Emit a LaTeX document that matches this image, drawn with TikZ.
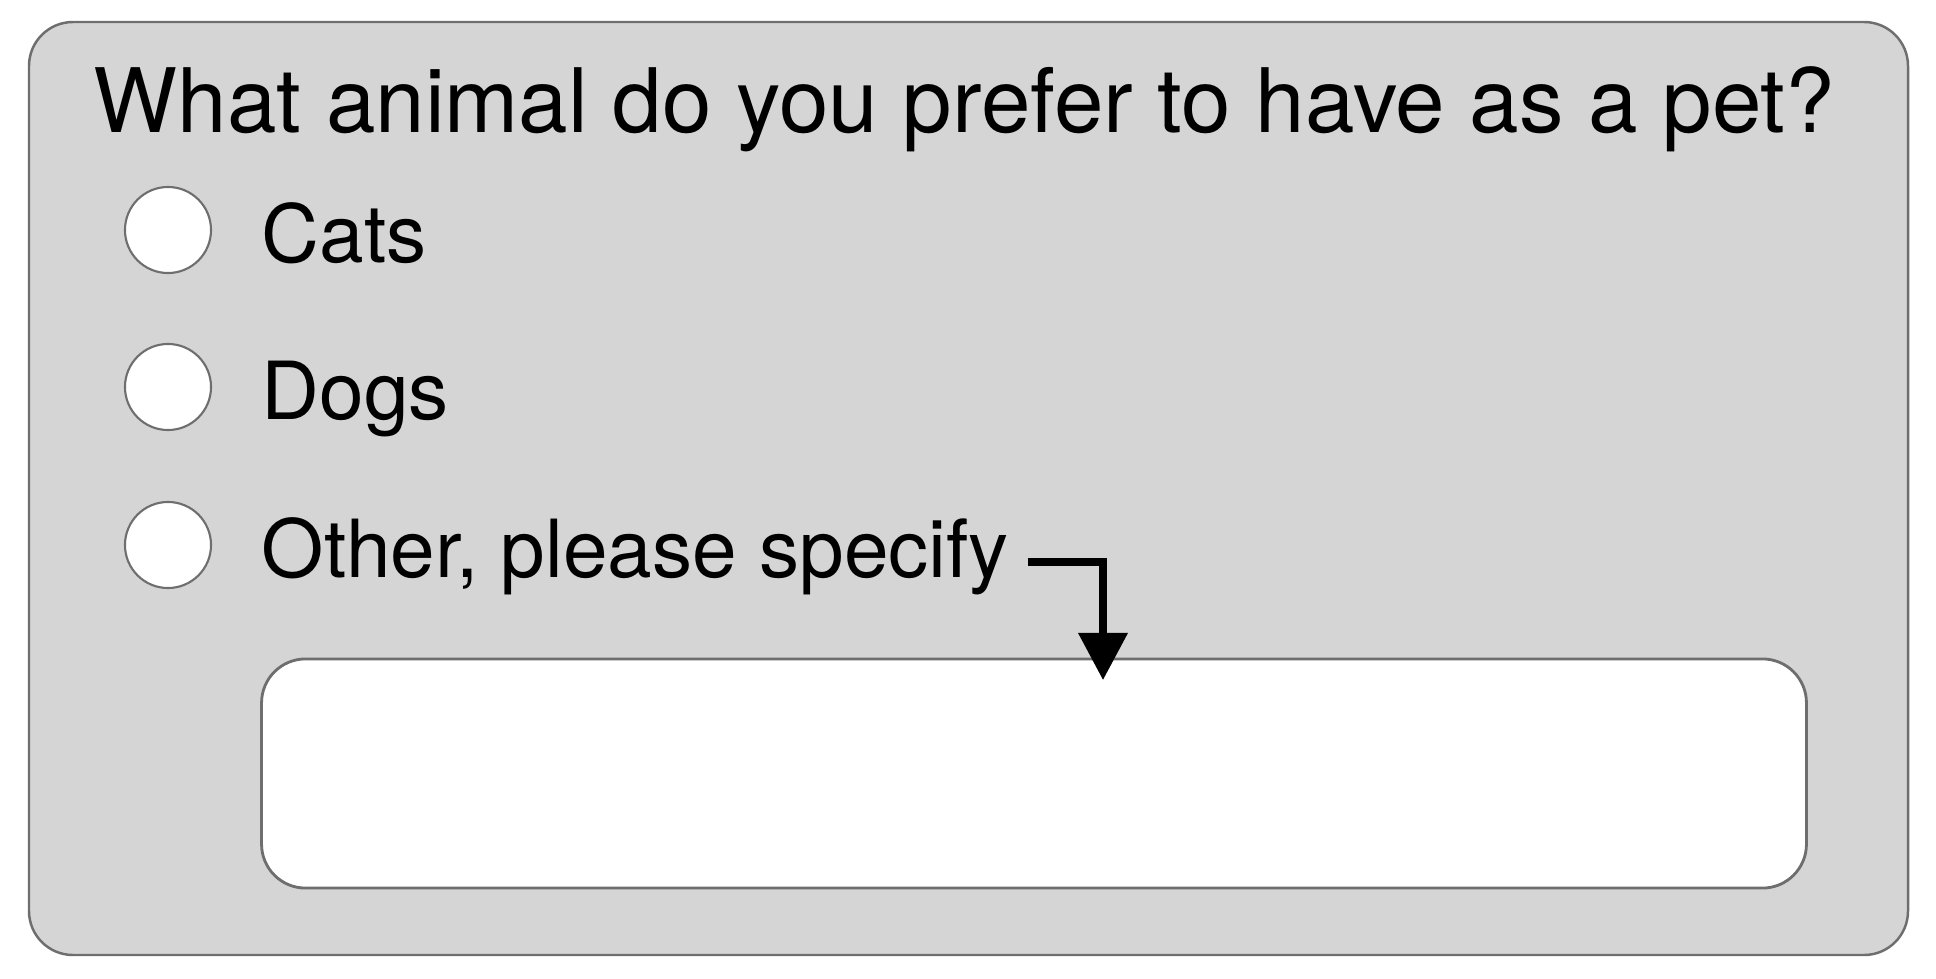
\documentclass[tikz,border=0pt]{standalone}
\usepackage{fontspec}
\setmainfont{TeX Gyre Heros}
\usetikzlibrary{arrows.meta,positioning}
\definecolor{cardgrey}{RGB}{213,213,213}
\definecolor{edgegrey}{RGB}{110,110,110}
\tikzset{
card/.style={
	% The grey panel behind the question
	rounded corners=12.5pt,
	fill=cardgrey,
	draw=edgegrey,
	line width=0.7pt
},
radio/.style={
	% The empty option buttons
	circle,
	minimum size=8.6mm,
	inner sep=0pt,
	fill=white,
	draw=edgegrey,
	line width=0.6pt
},
entry/.style={
	% The free text field
	rectangle,
	rounded corners=12.5pt,
	minimum width=15.44cm,
	minimum height=2.29cm,
	fill=white,
	draw=edgegrey,
	line width=0.8pt
},
question/.style={
	anchor=base west,
	inner sep=0pt,
	font=\fontsize{25.3pt}{30pt}\selectfont
},
answer/.style={
	inner sep=0pt,
	text height=8mm,
	text depth=1.5mm,
	font=\fontsize{22.8pt}{27pt}\selectfont
},
pointer/.style={
	line width=2pt,
	-{Triangle[width=4.8mm,length=4.7mm]}
}
}

\begin{document}
\begin{tikzpicture}[x=0.01cm, y=-0.01cm]
	\useasboundingbox (0,0) rectangle (1936,979);
	\draw[card] (29,22) rectangle (1908,955);

	\node[question] (title) at (93,133) {What animal do you prefer to have as a pet?};

	\node[radio] (cats) at (168,230) {};
	\node[radio] (dogs) at (168,387) {};
	\node[radio] (other) at (168,545) {};

	\node[answer, right=4.9mm of cats] (catstext) {Cats};
	\node[answer, right=4.9mm of dogs] (dogstext) {Dogs};
	\node[answer, right=4.9mm of other] (othertext) {Other, please specify};

	\node[entry] (specbox) at (1034,773.5) {};

	\coordinate (tip) at (1103,680);
	\draw[pointer] ([xshift=1.8mm,yshift=-1.7mm]othertext.east) -| (tip);
\end{tikzpicture}
\end{document}
